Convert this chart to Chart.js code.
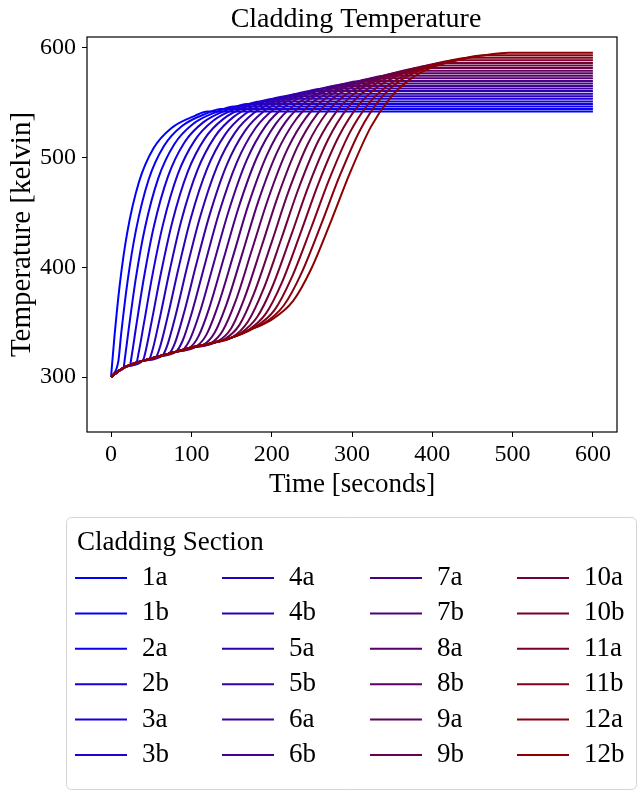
<!DOCTYPE html>
<html>
<head>
<meta charset="utf-8">
<title>Cladding Temperature</title>
<script src="https://cdn.jsdelivr.net/npm/chart.js@4.4.0/dist/chart.umd.min.js"></script>
<style>
  html, body { margin: 0; padding: 0; background: #fff; }
  #wrap { width: 637px; height: 794px; }
</style>
</head>
<body>
<div id="wrap"><canvas id="claddingChart" width="637" height="794"></canvas></div>
<script>
// Cladding section names (legend order, column by column)
const sectionLabels = ['1a', '1b', '2a', '2b', '3a', '3b', '4a', '4b', '5a', '5b', '6a', '6b',
                       '7a', '7b', '8a', '8b', '9a', '9b', '10a', '10b', '11a', '11b', '12a', '12b'];

// [time in s, temperature in K], one list per section
const sec1a = [[0,300],[1,309.7],[4.1,336.3],[10.8,384.4],[20,431.3],[34.7,477.8],[53,508.8],[74.9,526.9],[105,538.4],[120,542],[600,542]];
const sec1b = [[0,300],[9,314.4],[12.7,340.5],[20.5,387.3],[30.8,433.3],[46.6,479.7],[65.8,510.6],[88.3,528.8],[118.5,540.2],[137,544.3],[600,544.3]];
const sec2a = [[0,300],[10,306],[15.4,308.2],[17.3,317.8],[21.9,343.5],[30.7,389.5],[42,435.4],[58.8,481.4],[78.7,512.3],[101.6,530.5],[131.9,541.9],[153,546.7],[600,546.7]];
const sec2b = [[0,300],[10,306],[20,310],[23.4,310.8],[25.8,320.2],[31.1,345.7],[41.1,391.5],[53.2,437.1],[71,483.2],[91.5,514.1],[114.7,532.2],[144.8,543.6],[170,549],[600,549]];
const sec3a = [[0,300],[10,306],[20,310],[31.4,312.8],[34.4,322.4],[40.6,347.8],[51.6,393.4],[64.6,439],[83.1,485],[104.2,515.8],[127.5,533.9],[157.5,545.3],[187,551.3],[600,551.3]];
const sec3b = [[0,300],[10,306],[20,310],[39.4,314.9],[43.2,324.3],[50.2,349.6],[62.2,395.2],[76,440.8],[95.3,486.8],[116.8,517.6],[140.3,535.6],[170.1,547],[203,553.7],[600,553.7]];
const sec4a = [[0,300],[10,306],[20,310],[40,315],[47.5,316.5],[52.1,326.1],[60,351.5],[73,397.2],[87.5,442.7],[107.5,488.6],[129.3,519.2],[152.9,537.4],[182.5,548.6],[218,556],[600,556]];
const sec4b = [[0,300],[10,306],[20,310],[40,315],[55.7,318.1],[61.1,327.9],[69.9,353.4],[83.9,399],[99.2,444.6],[119.7,490.2],[141.9,521],[165.5,539.1],[194.9,550.3],[235,558.3],[600,558.3]];
const sec5a = [[0,300],[10,306],[20,310],[40,315],[64,319.8],[70.3,329.7],[80,355.3],[94.9,401],[110.9,446.2],[131.9,491.9],[154.4,522.8],[178.1,540.9],[207.2,552],[252,560.7],[600,560.7]];
const sec5b = [[0,300],[10,306],[20,310],[40,315],[60,319],[72.3,321.5],[79.7,331.5],[90.3,357.3],[106.1,402.8],[122.7,447.9],[144.2,493.7],[167,524.7],[190.7,542.6],[219.5,553.7],[267,563],[600,563]];
const sec6a = [[0,300],[10,306],[20,310],[40,315],[60,319],[80.7,323.1],[89.2,333.4],[100.7,359.2],[117.4,404.5],[134.5,449.8],[156.6,495.8],[179.5,526.6],[203.2,544.4],[231.9,555.5],[284,565.3],[600,565.3]];
const sec6b = [[0,300],[10,306],[20,310],[40,315],[60,319],[80,323],[89.2,324.8],[98.8,335.4],[111.3,360.9],[128.8,406.3],[146.5,451.7],[169,498],[192.1,528.6],[215.8,546.3],[244.2,557.2],[299,567.7],[600,567.7]];
const sec7a = [[0,300],[10,306],[20,310],[40,315],[60,319],[80,323],[97.7,326.6],[108.6,336.9],[122,362.5],[140.3,408.3],[158.6,454.2],[181.5,500.2],[204.8,530.6],[228.5,548],[256.6,558.4],[313,570],[600,570]];
const sec7b = [[0,300],[10,306],[20,310],[40,315],[60,319],[80,323],[106.3,328],[118.6,338.5],[132.8,364.5],[152,410.5],[170.8,456.8],[194,502.4],[217.4,532.7],[241.1,550.1],[269.1,561],[298,567.6],[327,572.3],[600,572.3]];
const sec8a = [[0,300],[10,306],[20,310],[40,315],[60,319],[80,323],[100,327],[115,329.4],[128.7,340.2],[143.8,366.6],[163.8,413.5],[183,459.5],[206.6,504.8],[230.2,534.8],[253.8,552],[281.6,562.4],[311,569.7],[341,574.7],[600,574.7]];
const sec8b = [[0,300],[10,306],[20,310],[40,315],[60,319],[80,323],[100,327],[123.9,330.8],[139,342.3],[155,369.2],[175.6,416.5],[195.4,462.1],[219.3,507.3],[243,536.8],[266.6,553.8],[294.2,564.6],[325,571.7],[355,577],[600,577]];
const sec9a = [[0,300],[10,306],[20,310],[40,315],[60,319],[80,323],[100,327],[132.7,332.5],[149.4,344.4],[166.3,372.5],[187.6,419.5],[207.8,465],[232,509.8],[255.9,539.1],[279.4,555.9],[306.8,566.4],[338,574.2],[369,579.3],[600,579.3]];
const sec9b = [[0,300],[10,306],[20,310],[40,315],[60,319],[80,323],[100,327],[125,331],[141.7,334.7],[159.9,347.6],[177.7,375.8],[199.8,422.6],[220.3,467.9],[244.8,512.2],[268.8,541.2],[292.3,557.5],[319.5,568],[350,576.2],[383,581.7],[600,581.7]];
const sec10a = [[0,300],[10,306],[20,310],[40,315],[60,319],[80,323],[100,327],[125,331],[150.8,336.2],[170.7,350.9],[189.2,379.2],[212,426.1],[233,471],[257.7,514.7],[281.8,543.2],[305.3,559.9],[332.3,570.8],[365,578.7],[397,584],[600,584]];
const sec10b = [[0,300],[10,306],[20,310],[40,315],[60,319],[80,323],[100,327],[125,331],[150,336],[159.9,339.2],[181.5,354.3],[200.9,382.6],[224.4,429.6],[245.7,473.9],[270.7,517.2],[294.8,545.6],[318.3,562],[345.2,572.9],[380,581.3],[412,586.3],[600,586.3]];
const sec11a = [[0,300],[10,306],[20,310],[40,315],[60,319],[80,323],[100,327],[125,331],[150,336],[169.2,342.1],[192.5,357.7],[212.8,386.4],[236.8,433.1],[258.5,477.1],[283.8,519.7],[308,547.6],[331.4,564.2],[358.1,575.1],[395,583.8],[429,588.7],[600,588.7]];
const sec11b = [[0,300],[10,306],[20,310],[40,315],[60,319],[80,323],[100,327],[125,331],[150,336],[178.5,345.2],[203.7,361.3],[224.7,390.4],[249.4,436.6],[271.5,480],[296.9,522.4],[321.2,549.8],[344.6,565.8],[371.1,577.1],[410,586],[446,591],[600,591]];
const sec12a = [[0,300],[10,306],[20,310],[40,315],[60,319],[80,323],[100,327],[125,331],[150,336],[175,344],[187.9,347.8],[215,365.3],[236.8,394.4],[262.1,440.2],[284.5,483.1],[310.2,525.3],[334.5,552.9],[357.8,569.1],[384.3,579.4],[425,588],[466,593.3],[600,593.3]];
const sec12b = [[0,300],[10,306],[20,310],[40,315],[60,319],[80,323],[100,327],[125,331],[150,336],[175,344],[197.4,351.2],[226.5,369.3],[249,398.3],[274.9,444.1],[297.6,486.4],[323.5,528.1],[347.9,554.8],[371.2,570.9],[397.5,581.7],[440,590.2],[465,593.3],[495,595.7],[600,595.7]];

const sectionSeries = [sec1a, sec1b, sec2a, sec2b, sec3a, sec3b, sec4a, sec4b, sec5a, sec5b, sec6a, sec6b,
                       sec7a, sec7b, sec8a, sec8b, sec9a, sec9b, sec10a, sec10b, sec11a, sec11b, sec12a, sec12b];

// axis ticks
const xTickValues = [0, 100, 200, 300, 400, 500, 600];
const yTickValues = [300, 400, 500, 600];

const fontFamily = "'Liberation Serif', 'Times New Roman', serif";
Chart.defaults.font.family = fontFamily;
Chart.defaults.color = '#000';

// blue -> darkred ramp, like the colormap in the original
function sectionColor(i) {
  const f = i / (sectionLabels.length - 1);
  const r = Math.round(142 * f);
  const b = Math.round(255 * Math.pow(1 - f, 0.9));
  return `rgb(${r}, 0, ${b})`;
}

const datasets = sectionSeries.map((pts, i) => ({
  label: sectionLabels[i],
  data: pts.map(p => ({ x: p[0], y: p[1] })),
  borderColor: sectionColor(i),
  backgroundColor: sectionColor(i),
  borderWidth: 2,
  pointRadius: 0,
  fill: false,
  cubicInterpolationMode: 'monotone',
  order: sectionLabels.length - i // later sections on top
}));

// frame, title and the boxed legend
const decorations = {
  id: 'decorations',
  afterDraw(chart) {
    const ctx = chart.ctx;
    const a = chart.chartArea;
    ctx.save();

    ctx.strokeStyle = '#000';
    ctx.lineWidth = 1.2;
    ctx.strokeRect(a.left, a.top, a.right - a.left, a.bottom - a.top);

    ctx.fillStyle = '#000';
    ctx.font = `28px ${fontFamily}`;
    ctx.textAlign = 'center';
    ctx.textBaseline = 'middle';
    ctx.fillText('Cladding Temperature', (a.left + a.right) / 2 + 4, 20);

    // legend box
    ctx.strokeStyle = '#d4d4d4';
    ctx.lineWidth = 1;
    ctx.beginPath();
    ctx.roundRect(66.5, 517.5, 570, 272, 5);
    ctx.stroke();

    ctx.font = `27px ${fontFamily}`;
    ctx.textAlign = 'left';
    ctx.fillText('Cladding Section', 77, 543);

    const colX = [75, 222, 370, 517];
    chart.data.datasets.forEach((ds, i) => {
      const col = Math.floor(i / 6);
      const row = i % 6;
      const y = 578 + row * 35.4;
      ctx.strokeStyle = ds.borderColor;
      ctx.lineWidth = 2;
      ctx.beginPath();
      ctx.moveTo(colX[col], y);
      ctx.lineTo(colX[col] + 52, y);
      ctx.stroke();
      ctx.fillStyle = '#000';
      ctx.fillText(ds.label, colX[col] + 67, y);
    });
    ctx.restore();
  }
};

const ctx = document.getElementById('claddingChart').getContext('2d');
const claddingChart = new Chart(ctx, {
  type: 'line',
  data: { datasets: datasets },
  options: {
    responsive: false,
    animation: false,
    devicePixelRatio: 1,
    layout: { padding: { left: 0, top: 37, right: 20, bottom: 293 } },
    plugins: {
      legend: { display: false },
      title: { display: false },
      tooltip: { enabled: false }
    },
    scales: {
      x: {
        type: 'linear',
        min: -30,
        max: 630,
        afterBuildTicks: axis => { axis.ticks = xTickValues.map(v => ({ value: v })); },
        afterFit: axis => { axis.height = 69; },
        grid: { drawOnChartArea: false, drawTicks: true, tickLength: 5, color: '#000', tickWidth: 1 },
        border: { display: false },
        ticks: { font: { size: 24 }, color: '#000', padding: 3, maxRotation: 0, autoSkip: false },
        title: { display: true, text: 'Time [seconds]', font: { size: 27 }, color: '#000', padding: { top: 0, bottom: 0 } }
      },
      y: {
        type: 'linear',
        min: 250,
        max: 610,
        afterBuildTicks: axis => { axis.ticks = yTickValues.map(v => ({ value: v })); },
        afterFit: axis => { axis.width = 87; },
        grid: { drawOnChartArea: false, drawTicks: true, tickLength: 5, color: '#000', tickWidth: 1 },
        border: { display: false },
        ticks: { font: { size: 24 }, color: '#000', padding: 6, autoSkip: false },
        title: { display: true, text: 'Temperature [kelvin]', font: { size: 29 }, color: '#000', padding: { top: 5, bottom: 0 } }
      }
    }
  },
  plugins: [decorations]
});
</script>
</body>
</html>
